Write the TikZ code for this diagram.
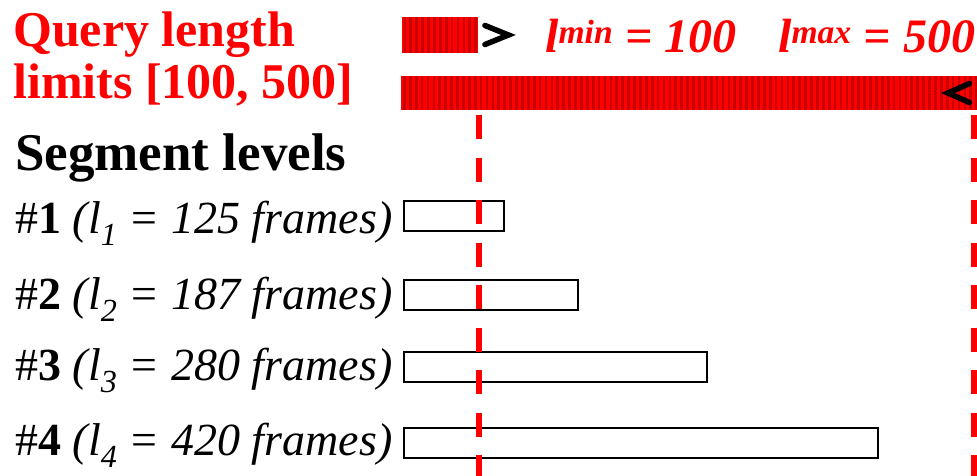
\documentclass[tikz,border=0pt]{standalone}
\usepackage{fontspec}
\setmainfont{Liberation Serif}
\definecolor{barred}{RGB}{255,0,0}
\definecolor{bardark}{RGB}{200,0,0}
\tikzset{
  lbl/.style={inner sep=0pt, anchor=base west},
  redhead/.style={lbl, text=barred, font=\fontsize{50}{60}\selectfont\bfseries},
  limtxt/.style={lbl, text=barred, font=\fontsize{48}{58}\selectfont\bfseries\itshape},
  seghead/.style={lbl, font=\fontsize{53}{63}\selectfont\bfseries},
  rowtxt/.style={lbl, font=\fontsize{46}{56}\selectfont},
  stripebar/.style={fill=barred, inner sep=0pt, anchor=north west},
  segbox/.style={draw=black, line width=2.4pt, inner sep=0pt, anchor=north west, minimum height=30pt},
  chev/.style={line width=5.5pt, line cap=round, line join=miter, black},
  limline/.style={barred, line width=6pt, dash pattern=on 24pt off 18.5pt},
}
\begin{document}
\begin{tikzpicture}[x=1pt, y=-1pt]
\useasboundingbox (0,0) rectangle (977,476);

% title on the left
\node[redhead] (q1) at (13,47) {Query length};
\node[redhead] (q2) at (13,99) {limits [100, 500]};
\node[seghead] (sl) at (15,171) {Segment levels};

% striped bars for the two query length limits
\node[stripebar, minimum width=76pt, minimum height=36pt] (minbar) at (402,17) {};
\node[stripebar, minimum width=576pt, minimum height=34pt] (maxbar) at (401,76) {};
\begin{scope}
  \clip (minbar.north west) rectangle (minbar.south east);
  \foreach \i in {0,...,12}
    \fill[bardark] ({403.5+5.9*\i},17) rectangle ++(2.7,36);
\end{scope}
\begin{scope}
  \clip (maxbar.north west) rectangle (maxbar.south east);
  \foreach \i in {0,...,97}
    \fill[bardark] ({403+5.9*\i},76) rectangle ++(2.7,34);
\end{scope}

% arrow heads at the bar ends
\coordinate (ga) at (485,25.5);
\coordinate (gb) at (508.5,35);
\coordinate (gc) at (485,44.5);
\draw[chev] (ga) -- (gb) -- (gc);
\coordinate (la) at (969.5,83.5);
\coordinate (lb) at (948,93);
\coordinate (lc) at (969.5,102.5);
\draw[chev] (la) -- (lb) -- (lc);

% limit labels
\node[limtxt] (lmin) at (545,53) {l\textsuperscript{min} = 100};
\node[limtxt] (lmax) at (778,53) {l\textsuperscript{max} = 500};

% segment levels
\node[rowtxt] (r1) at (15,233) {\#\textbf{1} \textit{(l\textsubscript{1} = 125 frames)}};
\node[rowtxt] (r2) at (15,309) {\#\textbf{2} \textit{(l\textsubscript{2} = 187 frames)}};
\node[rowtxt] (r3) at (15,380) {\#\textbf{3} \textit{(l\textsubscript{3} = 280 frames)}};
\node[rowtxt] (r4) at (15,455) {\#\textbf{4} \textit{(l\textsubscript{4} = 420 frames)}};

\node[segbox, minimum width=100pt] (s1) at (403,200) {};
\node[segbox, minimum width=174pt] (s2) at (403,279) {};
\node[segbox, minimum width=303pt] (s3) at (403,350.5) {};
\node[segbox, minimum width=474pt] (s4) at (403,427) {};

% dashed limit markers
\coordinate (mintop) at (478.7,115);
\coordinate (minbot) at (478.7,476);
\coordinate (maxtop) at (974,115);
\coordinate (maxbot) at (974,476);
\draw[limline] (mintop) -- (minbot);
\draw[limline] (maxtop) -- (maxbot);
\end{tikzpicture}
\end{document}
